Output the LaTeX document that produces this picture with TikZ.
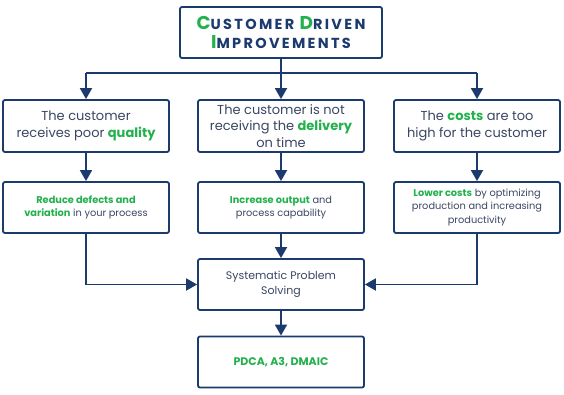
\documentclass[tikz,border=0pt]{standalone}
\usepackage{fontspec}
\setmainfont{Poppins}
\usetikzlibrary{arrows.meta}
\definecolor{navy}{HTML}{1B3A6E}
\definecolor{txt}{HTML}{3A4663}
\definecolor{grn}{HTML}{22B14C}
\newcommand{\gr}[1]{\textcolor{grn}{\textbf{#1}}}
\newcommand{\bigini}[1]{\textcolor{grn}{\fontsize{18.5}{20}\selectfont #1}}
\begin{document}
\begin{tikzpicture}[x=1pt,y=-1pt,
  box/.style={draw=navy,line width=1.8pt,rounded corners=2pt,inner sep=0pt,align=center,text=txt},
  bigbox/.style={box,minimum width=166pt,minimum height=52pt,font=\fontsize{13}{16.5}\selectfont},
  smallbox/.style={box,minimum width=166pt,minimum height=51pt,font=\fontsize{9.8}{13.5}\selectfont},
  conn/.style={draw=navy,line width=1.8pt},
  arr/.style={conn,-{Triangle[length=11pt,width=12pt]}}]
\useasboundingbox (0,0) rectangle (564,394);
\fill[white] (0,0) rectangle (564,394);
\node[box,minimum width=202pt,minimum height=51pt,text=navy,font=\fontsize{14.5}{20}\selectfont\bfseries\addfontfeatures{LetterSpace=16}] (title) at (281,32.5)
  {\bigini{C}USTOMER \bigini{D}RIVEN\\[-1pt]\bigini{I}MPROVEMENTS};
\node[bigbox] (a1) at (86,126) {The customer\\receives poor \gr{quality}};
\node[bigbox] (b1) at (281,126) {The customer is not\\receiving the \gr{delivery}\\on time};
\node[bigbox] (c1) at (477,126) {The \gr{costs} are too\\high for the customer};
\node[smallbox] (a2) at (86,207.5) {\gr{Reduce defects and}\\\gr{variation} in your process};
\node[smallbox] (b2) at (281,207.5) {\gr{Increase output} and\\process capability};
\node[smallbox] (c2) at (477,207.5) {\gr{Lower costs} by optimizing\\production and increasing\\productivity};
\node[smallbox,font=\fontsize{11}{15}\selectfont] (sps) at (281,284.5) {Systematic Problem\\Solving};
\node[smallbox,font=\fontsize{11}{15}\selectfont] (pd) at (281,362) {\gr{PDCA, A3, DMAIC}};
\coordinate (split) at (281,73);
\coordinate (jl) at (86,73);
\coordinate (jr) at (477,73);
\draw[conn] (title.south) -- (split);
\draw[conn] (jl) -- (jr);
\draw[arr] (jl) -- (a1.north);
\draw[arr] (split) -- (b1.north);
\draw[arr] (jr) -- (c1.north);
\draw[arr] (a1) -- (a2);
\draw[arr] (b1) -- (b2);
\draw[arr] (c1) -- (c2);
\draw[arr] (a2.south) |- (sps.west);
\draw[arr] (c2.south) |- (sps.east);
\draw[arr] (b2) -- (sps);
\draw[arr] (sps) -- (pd);
\end{tikzpicture}
\end{document}
